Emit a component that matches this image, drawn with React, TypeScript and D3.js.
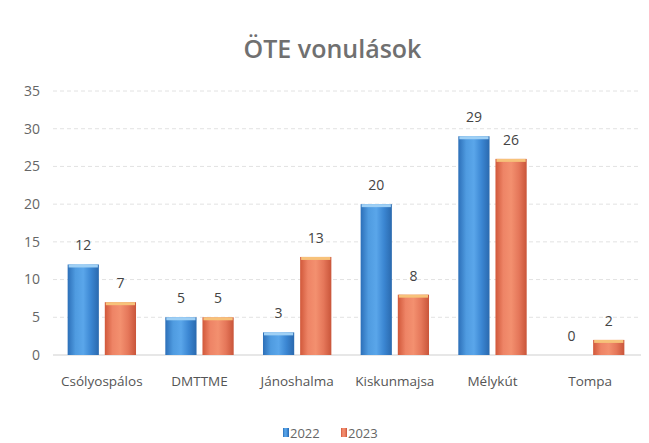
import { useEffect, useRef } from "react";
import * as d3 from "d3";

// category names on the x axis
const towns = ["Csólyospálos", "DMTTME", "Jánoshalma", "Kiskunmajsa", "Mélykút", "Tompa"];
const years = ["2022", "2023"];
const values2022 = [12, 5, 3, 20, 29, 0];
const values2023 = [7, 5, 13, 8, 26, 2];
const yTicks = [0, 5, 10, 15, 20, 25, 30, 35];

const W = 649;
const H = 443;

export default function App() {
  const ref = useRef<SVGSVGElement>(null);

  useEffect(() => {
    const svg = d3.select(ref.current);
    svg.selectAll("*").remove();

    const margin = { top: 91, bottom: 88, left: 53, right: 10 };
    const font = "'Open Sans', 'Liberation Sans', sans-serif";

    const x0 = d3.scaleBand().domain(towns).range([margin.left, W - margin.right]).paddingInner(0.3).paddingOuter(0.15);
    const x1 = d3.scaleBand().domain(years).range([0, x0.bandwidth()]).paddingInner(0.16);
    const y = d3.scaleLinear().domain([0, 35]).range([H - margin.bottom, margin.top]);

    const defs = svg.append("defs");
    const grads = [
      { id: "g2022", stops: ["#2c6fb8", "#4f9be0", "#5aa6ea", "#3b86d2", "#2a69ae"] },
      { id: "g2023", stops: ["#d1583a", "#ee8466", "#f3906f", "#e5775a", "#c9553a"] },
    ];
    grads.forEach(g => {
      const lg = defs.append("linearGradient").attr("id", g.id).attr("x1", "0").attr("x2", "1").attr("y1", "0").attr("y2", "0");
      g.stops.forEach((c, i) => lg.append("stop").attr("offset", i / (g.stops.length - 1)).attr("stop-color", c));
    });

    // title
    svg.append("text")
      .attr("x", W / 2 + 8)
      .attr("y", 49)
      .attr("dy", "0.35em")
      .attr("text-anchor", "middle")
      .attr("font-family", font)
      .attr("font-size", 25)
      .attr("font-weight", 600)
      .attr("fill", "#707070")
      .text("ÖTE vonulások");

    // gridlines
    svg.append("g")
      .selectAll("line")
      .data(yTicks)
      .join("line")
      .attr("x1", margin.left)
      .attr("x2", W - 8)
      .attr("y1", d => y(d))
      .attr("y2", d => y(d))
      .attr("stroke", d => (d === 0 ? "#cfcfcf" : "#e2e2e2"))
      .attr("stroke-dasharray", d => (d === 0 ? null : "4,3"));

    // y labels
    svg.append("g")
      .selectAll("text")
      .data(yTicks)
      .join("text")
      .attr("x", 40)
      .attr("y", d => y(d))
      .attr("dy", "0.35em")
      .attr("text-anchor", "end")
      .attr("font-family", font)
      .attr("font-size", 14)
      .attr("fill", "#666")
      .text(d => d);

    const rows = towns.map((t, i) => ({ town: t, vals: [values2022[i], values2023[i]] }));

    const groups = svg.append("g")
      .selectAll("g")
      .data(rows)
      .join("g")
      .attr("transform", d => `translate(${x0(d.town)},0)`);

    const bars = groups.selectAll("g")
      .data(d => d.vals.map((v, j) => ({ year: years[j], v })))
      .join("g");

    bars.filter(d => d.v > 0)
      .append("rect")
      .attr("x", d => x1(d.year)!)
      .attr("y", d => y(d.v))
      .attr("width", x1.bandwidth())
      .attr("height", d => y(0) - y(d.v))
      .attr("fill", d => `url(#g${d.year})`);

    // light top edge of each bar
    bars.filter(d => d.v > 0)
      .append("rect")
      .attr("x", d => x1(d.year)! + 1)
      .attr("y", d => y(d.v))
      .attr("width", x1.bandwidth() - 2)
      .attr("height", 3)
      .attr("fill", d => (d.year === "2022" ? "#9fd0f5" : "#f7c27a"));

    bars.append("text")
      .attr("x", d => x1(d.year)! + x1.bandwidth() / 2)
      .attr("y", d => y(d.v) - 19)
      .attr("dy", "0.35em")
      .attr("text-anchor", "middle")
      .attr("font-family", font)
      .attr("font-size", 14)
      .attr("fill", "#444")
      .text(d => d.v);

    // x labels
    svg.append("g")
      .selectAll("text")
      .data(towns)
      .join("text")
      .attr("x", d => x0(d)! + x0.bandwidth() / 2)
      .attr("y", 381)
      .attr("dy", "0.35em")
      .attr("text-anchor", "middle")
      .attr("font-family", font)
      .attr("font-size", 13.5)
      .attr("fill", "#555")
      .text(d => d);

    // legend
    const legend = svg.append("g").attr("transform", "translate(283,433)");
    const legendX = [0, 58];
    years.forEach((yr, i) => {
      const item = legend.append("g").attr("transform", `translate(${legendX[i]},0)`);
      item.append("rect").attr("x", 0).attr("y", -5).attr("width", 6).attr("height", 9).attr("fill", `url(#g${yr})`);
      item.append("text")
        .attr("x", 7)
        .attr("y", 0)
        .attr("dy", "0.35em")
        .attr("font-family", font)
        .attr("font-size", 13)
        .attr("fill", "#666")
        .text(yr);
    });
  }, []);

  return (
    <svg
      ref={ref}
      width={W}
      height={H}
      style={{ position: "absolute", left: 0, top: 0, background: "#fff" }}
    />
  );
}
